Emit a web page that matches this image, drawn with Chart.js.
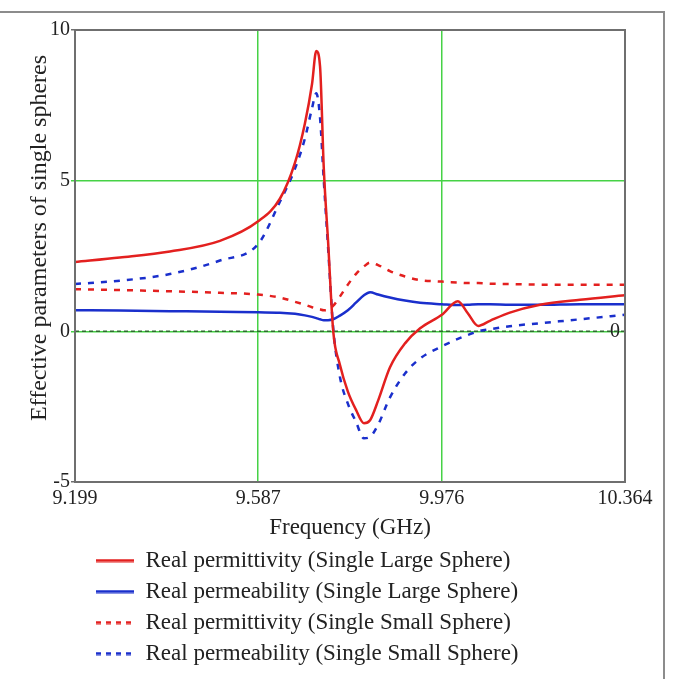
<!DOCTYPE html>
<html>
<head>
<meta charset="utf-8">
<script src="https://cdn.jsdelivr.net/npm/chart.js@4/dist/chart.umd.min.js"></script>
<style>
html, body { margin: 0; padding: 0; background: #fff; overflow: hidden; }
#wrap { position: relative; width: 673px; height: 679px; }
#frame { position: absolute; left: -4px; top: 11px; width: 667px; height: 700px;
         border-top: 2px solid #8c8c8c; border-right: 2px solid #8c8c8c; pointer-events: none; }
</style>
</head>
<body>
<div id="wrap"><canvas id="myChart"></canvas><div id="frame"></div></div>
<script>
// frequency points (GHz), shared by the four curves
const freq = [9.199, 9.294, 9.400, 9.506, 9.587, 9.633, 9.665, 9.686, 9.701, 9.710,
              9.718, 9.726, 9.735, 9.746, 9.760, 9.777, 9.794, 9.811, 9.824, 9.841,
              9.866, 9.898, 9.930, 9.976, 10.010, 10.031, 10.053, 10.078, 10.120, 10.184,
              10.269, 10.364];

// real permittivity, large sphere (red solid)
const epsLarge = [2.3, 2.45, 2.65, 3.0, 3.65, 4.4, 5.6, 6.9, 8.2, 9.3,
                  8.8, 5.4, 3.0, 0.0, -1.1, -2.0, -2.6, -3.05, -2.95, -2.3,
                  -1.2, -0.4, 0.1, 0.55, 1.0, 0.6, 0.18, 0.35, 0.62, 0.88,
                  1.05, 1.2];
// real permeability, large sphere (blue solid)
const muLarge = [0.7, 0.69, 0.67, 0.65, 0.63, 0.62, 0.58, 0.53, 0.48, 0.44,
                 0.4, 0.37, 0.37, 0.4, 0.52, 0.7, 0.95, 1.2, 1.3, 1.22,
                 1.12, 1.02, 0.95, 0.9, 0.87, 0.88, 0.9, 0.9, 0.88, 0.88,
                 0.9, 0.9];
// real permittivity, small sphere (red dashed)
const epsSmall = [1.4, 1.37, 1.33, 1.28, 1.22, 1.12, 0.98, 0.88, 0.8, 0.76,
                  0.73, 0.7, 0.72, 0.85, 1.15, 1.55, 1.9, 2.15, 2.28, 2.2,
                  2.0, 1.82, 1.7, 1.65, 1.62, 1.6, 1.6, 1.58, 1.57, 1.55,
                  1.55, 1.55];
// real permeability, small sphere (blue dashed)
const muSmall = [1.57, 1.68, 1.9, 2.35, 2.9, 4.3, 5.4, 6.4, 7.4, 7.9,
                 7.1, 5.0, 2.8, 0.1, -1.5, -2.4, -3.0, -3.55, -3.5, -3.1,
                 -2.2, -1.4, -0.9, -0.5, -0.25, -0.12, 0.0, 0.07, 0.17, 0.27,
                 0.4, 0.55];

const xTicks = [9.199, 9.587, 9.976, 10.364];
const yTicks = [-5, 0, 5, 10];

const labels = [
  "Real permittivity (Single Large Sphere)",
  "Real permeability (Single Large Sphere)",
  "Real permittivity (Single Small Sphere)",
  "Real permeability (Single Small Sphere)"
];

const RED = "#e3201f";
const BLUE = "#1a2fcc";
const GRID = "#46d246";
const serif = "'Liberation Serif', 'Times New Roman', serif";

const toPoints = (ys) => ys.map((y, i) => ({ x: freq[i], y: y }));

// small canvas used as the legend sample (keeps the dash visible)
function legendLine(color, dash) {
  const cv = document.createElement("canvas");
  cv.width = 38;
  cv.height = 4;
  const g = cv.getContext("2d");
  g.strokeStyle = color;
  g.lineWidth = 3;
  g.setLineDash(dash.length ? [5, 5] : []);
  g.beginPath();
  g.moveTo(0, 2);
  g.lineTo(38, 2);
  g.stroke();
  return cv;
}

function curve(label, ys, color, dash) {
  return {
    label: label,
    data: toPoints(ys),
    borderColor: color,
    backgroundColor: color,
    borderWidth: 2.5,
    borderDash: dash,
    pointRadius: 0,
    pointStyle: legendLine(color, dash),
    cubicInterpolationMode: "monotone",
    fill: false
  };
}

// plot box drawn over the curves
const boxPlugin = {
  id: "box",
  afterDatasetsDraw(chart) {
    const a = chart.chartArea;
    const c = chart.ctx;
    c.save();
    c.strokeStyle = "#6f6f6f";
    c.lineWidth = 2;
    c.strokeRect(a.left, a.top, a.right - a.left, a.bottom - a.top);
    c.restore();
  }
};

// nudge legend to the right
const legendShift = {
  id: "legendShift",
  afterLayout(chart) {
    chart.legend.left += 13;
    chart.legend.right += 13;
  }
};

var ctx = document.getElementById("myChart").getContext("2d");

new Chart(ctx, {
  type: "line",
  data: {
    datasets: [
      curve(labels[0], epsLarge, RED, []),
      curve(labels[1], muLarge, BLUE, []),
      curve(labels[2], epsSmall, RED, [6, 7]),
      curve(labels[3], muSmall, BLUE, [6, 7]),
      {
        label: "zero",
        data: [{ x: xTicks[0], y: 0 }, { x: xTicks[3], y: 0 }],
        borderColor: "#2f6a2f",
        borderWidth: 1.5,
        borderDash: [4, 3],
        pointRadius: 0
      }
    ]
  },
  options: {
    responsive: true,
    maintainAspectRatio: false,
    animation: false,
    layout: { padding: { top: 30, right: 48, bottom: 4, left: 0 } },
    plugins: {
      tooltip: { enabled: false },
      legend: {
        position: "bottom",
        fullSize: false,
        align: "start",
        labels: {
          usePointStyle: true,
          pointStyleWidth: 38,
          padding: 8,
          color: "#222",
          font: { family: serif, size: 23 },
          filter: (item) => item.datasetIndex < 4
        }
      }
    },
    scales: {
      x: {
        type: "linear",
        min: xTicks[0],
        max: xTicks[3],
        afterBuildTicks: (axis) => { axis.ticks = xTicks.map(v => ({ value: v })); },
        afterFit: (axis) => { axis.height = 59; },
        border: { display: false },
        grid: {
          color: (c) => (c.tick && (c.tick.value === xTicks[1] || c.tick.value === xTicks[2])) ? GRID : "rgba(0,0,0,0)",
          lineWidth: 1.5,
          drawTicks: false
        },
        ticks: {
          padding: 5,
          maxRotation: 0,
          autoSkip: false,
          color: "#222",
          font: { family: serif, size: 20 },
          callback: (v) => Number(v).toFixed(3)
        },
        title: {
          display: true,
          text: "Frequency (GHz)",
          color: "#222",
          font: { family: serif, size: 23, lineHeight: 1 },
          padding: { top: 0, bottom: 2 }
        }
      },
      y: {
        min: yTicks[0],
        max: yTicks[3],
        afterBuildTicks: (axis) => { axis.ticks = yTicks.map(v => ({ value: v })); },
        afterFit: (axis) => { axis.width = 75; },
        border: { display: false },
        grid: {
          color: (c) => (c.tick && (c.tick.value === 5 || c.tick.value === 0)) ? GRID : "rgba(0,0,0,0)",
          tickColor: (c) => (c.tick && (c.tick.value === 5 || c.tick.value === 0)) ? GRID : "#6f6f6f",
          lineWidth: 1.5,
          tickLength: 4
        },
        ticks: {
          padding: 1,
          color: "#222",
          font: { family: serif, size: 20 }
        },
        title: {
          display: true,
          // leading spaces lift the title a little, as in the original
          text: "      Effective parameters of single spheres",
          color: "#222",
          font: { family: serif, size: 24, lineHeight: 1 },
          padding: { top: 28 }
        }
      },
      y2: {
        position: "right",
        min: yTicks[0],
        max: yTicks[3],
        afterBuildTicks: (axis) => { axis.ticks = [{ value: 0 }]; },
        afterFit: (axis) => { axis.width = 0; },
        border: { display: false },
        grid: { display: false, drawTicks: false },
        ticks: {
          mirror: true,
          padding: -5,
          color: "#222",
          font: { family: serif, size: 20 }
        }
      }
    }
  },
  plugins: [boxPlugin, legendShift]
});
</script>
</body>
</html>
